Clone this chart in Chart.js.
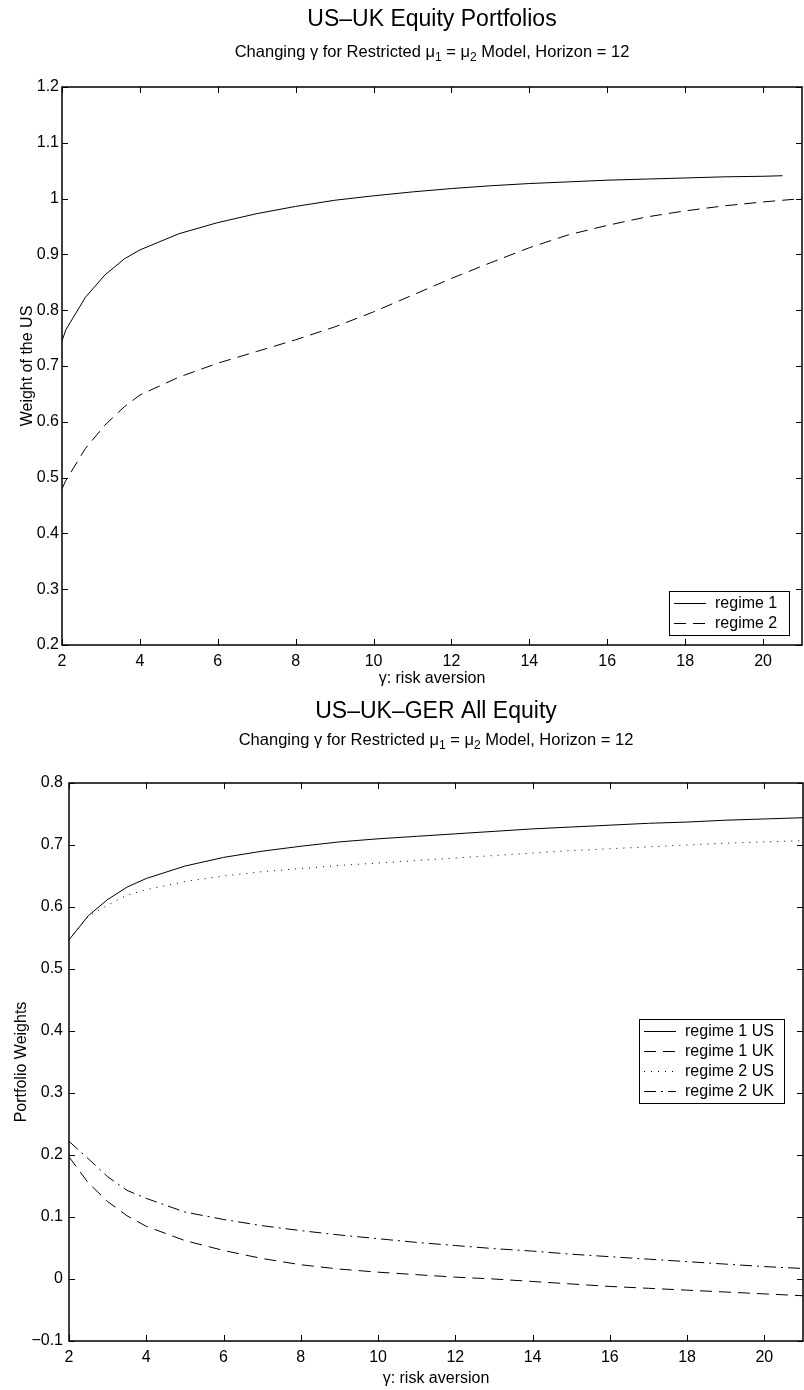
<!DOCTYPE html>
<html>
<head>
<meta charset="utf-8">
<title>Portfolio weights vs risk aversion</title>
<script src="https://cdn.jsdelivr.net/npm/chart.js@4.4.0/dist/chart.umd.min.js"></script>
<style>
  html, body { margin: 0; padding: 0; background: #fff; }
  canvas { display: block; }
</style>
</head>
<body>
<canvas id="topChart" width="804" height="695"></canvas>
<canvas id="botChart" width="804" height="695"></canvas>
<script>
// ---- data ----
// top panel: US-UK equity portfolios
const gammaTop   = [2, 2.1, 2.6, 3.1, 3.6, 4, 5, 6, 7, 8, 9, 10, 11, 12, 13, 14, 15, 16, 17, 18, 19, 20, 20.5, 21];
const regime1Top = [0.745, 0.765, 0.823, 0.863, 0.892, 0.908, 0.937, 0.957, 0.973, 0.986, 0.997, 1.005, 1.012, 1.018, 1.023, 1.027, 1.030, 1.033, 1.035, 1.037, 1.039, 1.040, 1.041, null];
const regime2Top = [0.48, 0.495, 0.552, 0.594, 0.627, 0.648, 0.68, 0.705, 0.726, 0.747, 0.77, 0.797, 0.827, 0.857, 0.885, 0.912, 0.935, 0.952, 0.967, 0.978, 0.987, 0.994, 0.997, 1.0];

// bottom panel: US-UK-GER all equity
const gammaBot = [2, 2.5, 3, 3.5, 4, 5, 6, 7, 8, 9, 10, 11, 12, 13, 14, 15, 16, 17, 18, 19, 20, 21];
const reg1US = [0.547, 0.586, 0.612, 0.632, 0.646, 0.666, 0.68, 0.69, 0.698, 0.705, 0.71, 0.714, 0.718, 0.722, 0.726, 0.729, 0.732, 0.735, 0.737, 0.74, 0.742, 0.744];
const reg1UK = [0.197, 0.155, 0.125, 0.102, 0.085, 0.062, 0.046, 0.033, 0.023, 0.016, 0.011, 0.007, 0.003, 0.0, -0.004, -0.008, -0.012, -0.015, -0.018, -0.021, -0.024, -0.027];
const reg2US = [0.547, 0.585, 0.603, 0.619, 0.628, 0.641, 0.65, 0.657, 0.662, 0.667, 0.671, 0.675, 0.679, 0.683, 0.687, 0.691, 0.694, 0.697, 0.700, 0.703, 0.705, 0.707];
const reg2UK = [0.222, 0.194, 0.165, 0.143, 0.13, 0.108, 0.096, 0.086, 0.078, 0.071, 0.065, 0.059, 0.054, 0.049, 0.045, 0.04, 0.036, 0.032, 0.028, 0.024, 0.02, 0.017];

// ticks
const xTicks      = [2, 4, 6, 8, 10, 12, 14, 16, 18, 20];
const yTicksTop   = [0.2, 0.3, 0.4, 0.5, 0.6, 0.7, 0.8, 0.9, 1, 1.1, 1.2];
const yTicksBot   = [-0.1, 0, 0.1, 0.2, 0.3, 0.4, 0.5, 0.6, 0.7, 0.8];

const FONT = "'Liberation Sans', Arial, Helvetica, sans-serif";
Chart.defaults.font.family = FONT;
Chart.defaults.color = "#000";

const pts = (xs, ys) => xs.map((x, i) => ({ x: x, y: ys[i] }));
const fmt = v => (Math.abs(v) < 1e-9 ? "0" : String(Number(v.toFixed(1))).replace("-", "\u2212"));

// MATLAB-ish box: frame, inward ticks on all four sides, boxed legend, titles
const matlabAxes = {
  id: "matlabAxes",
  afterDraw(chart, args, o) {
    const { ctx, chartArea: a, scales: { x, y } } = chart;
    const TL = 6;
    ctx.save();
    ctx.strokeStyle = "#000";
    ctx.lineWidth = 1;
    ctx.setLineDash([]);
    ctx.beginPath();
    x.ticks.forEach(t => {
      const px = Math.round(x.getPixelForValue(t.value)) + 0.5;
      ctx.moveTo(px, a.bottom); ctx.lineTo(px, a.bottom - TL);
      ctx.moveTo(px, a.top);    ctx.lineTo(px, a.top + TL);
    });
    y.ticks.forEach(t => {
      const py = Math.round(y.getPixelForValue(t.value)) + 0.5;
      ctx.moveTo(a.left, py);  ctx.lineTo(a.left + TL, py);
      ctx.moveTo(a.right, py); ctx.lineTo(a.right - TL, py);
    });
    ctx.stroke();
    ctx.lineWidth = 1.5;
    ctx.strokeRect(a.left, a.top, a.right - a.left, a.bottom - a.top);

    // legend
    const L = o.legend;
    const sets = chart.data.datasets;
    const h = sets.length * 20 + 4;
    const lx = a.right - L.right - L.width;
    const ly = a.bottom - L.bottom - h;
    ctx.fillStyle = "#fff";
    ctx.fillRect(lx, ly, L.width, h);
    ctx.lineWidth = 1;
    ctx.strokeRect(lx + 0.5, ly + 0.5, L.width, h);
    ctx.font = "16px " + FONT;
    ctx.textBaseline = "middle";
    ctx.textAlign = "left";
    sets.forEach((ds, i) => {
      const cy = Math.round(ly + 12 + i * 20) + 0.5;
      ctx.setLineDash(ds.borderDash || []);
      ctx.beginPath();
      ctx.moveTo(lx + 5, cy);
      ctx.lineTo(lx + 37, cy);
      ctx.stroke();
      ctx.fillStyle = "#000";
      ctx.fillText(ds.label, lx + 46, cy);
    });
    ctx.setLineDash([]);

    // titles
    const cx = (a.left + a.right) / 2;
    ctx.textAlign = "center";
    ctx.font = "23px " + FONT;
    ctx.fillText(o.title, cx, o.titleY);
    // subtitle with subscripts
    const big = "16.5px " + FONT, small = "12px " + FONT;
    let w = 0;
    o.subtitle.forEach(s => { ctx.font = s.sub ? small : big; w += ctx.measureText(s.t).width; });
    let sx = cx - w / 2;
    ctx.textAlign = "left";
    o.subtitle.forEach(s => {
      ctx.font = s.sub ? small : big;
      ctx.fillText(s.t, sx, o.subtitleY + (s.sub ? 6 : 0));
      sx += ctx.measureText(s.t).width;
    });
    ctx.restore();
  }
};

const subtitleParts = [
  { t: "Changing \u03b3 for Restricted \u03bc" }, { t: "1", sub: true },
  { t: " = \u03bc" }, { t: "2", sub: true },
  { t: " Model, Horizon = 12" }
];

function makeChart(id, datasets, cfg) {
  return new Chart(document.getElementById(id), {
    type: "line",
    data: { datasets: datasets },
    options: {
      responsive: false,
      animation: false,
      devicePixelRatio: 1,
      layout: { padding: { top: cfg.top, right: cfg.right, left: 0, bottom: 0 } },
      elements: { point: { radius: 0 }, line: { tension: 0, borderWidth: 1, borderColor: "#000" } },
      scales: {
        x: {
          type: "linear", min: 2, max: 21,
          afterBuildTicks: s => { s.ticks = xTicks.map(v => ({ value: v })); },
          afterFit: s => { s.height = cfg.xHeight; },
          grid: { display: false, drawTicks: false },
          border: { display: false },
          ticks: { font: { size: 16 }, padding: 7, maxRotation: 0, callback: v => String(v) },
          title: { display: true, text: "\u03b3: risk aversion", font: { size: 16 }, padding: { top: 0, bottom: cfg.xTitlePad } }
        },
        y: {
          type: "linear", min: cfg.yTicks[0], max: cfg.yTicks[cfg.yTicks.length - 1],
          afterBuildTicks: s => { s.ticks = cfg.yTicks.map(v => ({ value: v })); },
          afterFit: s => { s.width = cfg.yWidth; },
          grid: { display: false, drawTicks: false },
          border: { display: false },
          ticks: { font: { size: 16 }, padding: cfg.yTickPad, callback: v => fmt(v) },
          title: { display: true, text: cfg.yTitle, font: { size: 16 }, padding: { top: cfg.yTitlePad, bottom: 0 } }
        }
      },
      plugins: {
        legend: { display: false },
        tooltip: { enabled: false },
        matlabAxes: {
          title: cfg.title, titleY: cfg.titleY,
          subtitle: subtitleParts, subtitleY: cfg.subtitleY,
          legend: cfg.legend
        }
      }
    },
    plugins: [matlabAxes]
  });
}

makeChart("topChart", [
  { label: "regime 1", data: pts(gammaTop, regime1Top), borderColor: "#000", borderWidth: 1, borderDash: [] },
  { label: "regime 2", data: pts(gammaTop, regime2Top), borderColor: "#000", borderWidth: 1, borderDash: [12, 7] }
], {
  top: 87, right: 2, xHeight: 50, yWidth: 62, yTickPad: 3, yTitlePad: 18, xTitlePad: 7,
  yTicks: yTicksTop, yTitle: "Weight of the US",
  title: "US\u2013UK Equity Portfolios", titleY: 20, subtitleY: 52,
  legend: { right: 13, bottom: 10, width: 120 }
});

makeChart("botChart", [
  { label: "regime 1 US", data: pts(gammaBot, reg1US), borderColor: "#000", borderWidth: 1, borderDash: [] },
  { label: "regime 1 UK", data: pts(gammaBot, reg1UK), borderColor: "#000", borderWidth: 1, borderDash: [12, 7] },
  { label: "regime 2 US", data: pts(gammaBot, reg2US), borderColor: "#000", borderWidth: 1, borderDash: [1, 6] },
  { label: "regime 2 UK", data: pts(gammaBot, reg2UK), borderColor: "#000", borderWidth: 1, borderDash: [12, 5, 2, 5] }
], {
  top: 88, right: 1, xHeight: 49, yWidth: 69, yTickPad: 6, yTitlePad: 12, xTitlePad: 2,
  yTicks: yTicksBot, yTitle: "Portfolio Weights",
  title: "US\u2013UK\u2013GER All Equity", titleY: 17, subtitleY: 45,
  legend: { right: 19, bottom: 238, width: 145 }
});
</script>
</body>
</html>
